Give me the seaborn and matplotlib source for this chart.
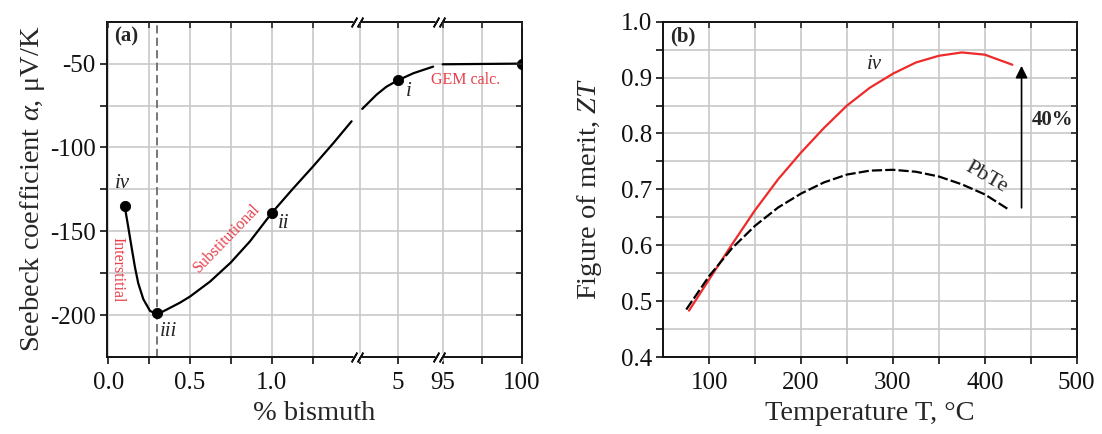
import numpy as np
import pandas as pd
import seaborn as sns
import matplotlib
matplotlib.use('Agg')
import matplotlib.pyplot as plt
from matplotlib.transforms import blended_transform_factory, offset_copy

# (a) Seebeck coefficient vs % bismuth (three pieces of a broken axis)
bi_seg1 = [0.1, 0.122, 0.143, 0.163, 0.183, 0.214, 0.255, 0.3, 0.357, 0.438, 0.5,
           0.622, 0.748, 0.866, 1.0, 1.125, 1.25, 1.375, 1.487]
seebeck_seg1 = [-135, -147.5, -160, -171.5, -181, -190.5, -197.5, -199.5, -196.7, -192.6,
                -188.9, -180, -168.7, -156, -139, -125, -111.5, -97.5, -84.4]
bi_seg2 = [4.53, 4.72, 4.85, 5.0, 5.21, 5.47]
seebeck_seg2 = [-77, -68.5, -63.8, -60, -55.7, -51.8]
bi_seg3 = [95.0, 100.0]
seebeck_seg3 = [-50.4, -50]

bi_points = [0.1, 0.3, 1.0, 5.0, 100.0]
seebeck_points = [-135, -199, -139, -60, -50]
point_names = ['iv', 'iii', 'ii', 'i']

bi_ticks = [0, 0.5, 1.0, 5, 95, 100]
bi_ticklabels = ['0.0', '0.5', '1.0', '5', '95', '100']
bi_minor = [0.25, 0.75, 1.25, 4.5, 97.5]
bi_gaps = [(1.5, 4.5), (5.5, 95)]

# (b) figure of merit vs temperature
temp_iv = [78, 100, 125, 150, 175, 200, 225, 250, 275, 300, 325, 350, 375, 400, 430]
zt_iv = [0.483, 0.539, 0.602, 0.663, 0.718, 0.766, 0.810, 0.850, 0.882, 0.907, 0.927,
         0.939, 0.945, 0.941, 0.923]
temp_pbte = [75, 100, 125, 150, 175, 200, 225, 250, 275, 300, 325, 350, 375, 400, 425]
zt_pbte = [0.485, 0.545, 0.595, 0.635, 0.6675, 0.6925, 0.7125, 0.7265, 0.7335, 0.735,
           0.7315, 0.723, 0.709, 0.691, 0.665]
arrow_temp = 440
arrow_zt = (0.667, 0.921)

# broken-axis scale: % bismuth -> pixel-like position
bi_knots = [-0.25, 0, 1.5, 4.5, 5.5, 95, 100, 102.5]
pos_knots = [67.4, 108.3, 353.7, 360.0, 435.4, 442.7, 521.7, 561.2]


def fwd(x):
    return np.interp(x, bi_knots, pos_knots)


def inv(p):
    return np.interp(p, pos_knots, bi_knots)


sns.set_theme(style='ticks')
plt.rcParams['font.family'] = ['Liberation Serif', 'DejaVu Serif']
plt.rcParams['mathtext.fontset'] = 'custom'
plt.rcParams['mathtext.rm'] = 'Liberation Serif'
plt.rcParams['mathtext.it'] = 'Liberation Serif:italic'
plt.rcParams['axes.unicode_minus'] = False

red = '#ee2a2a'
red_txt = '#e8404c'
grid_c = '#c8c8c8'
fs_tick = 18
fs_label = 20.5

fig = plt.figure(figsize=(11.02, 4.34), dpi=100)
ax1 = fig.add_axes([0.0968, 0.1774, 0.3766, 0.7726])
ax2 = fig.add_axes([0.6019, 0.1774, 0.3751, 0.7726])


def style_axes(ax):
    for s in ax.spines.values():
        s.set_linewidth(1.4)
        s.set_color('#111111')
    ax.grid(which='both', color=grid_c, lw=1.2)
    ax.set_axisbelow(True)
    ax.tick_params(which='both', direction='out', length=5, width=1.2,
                   labelsize=fs_tick, colors='#111111')
    ax.tick_params(axis='x', which='both', pad=6)
    ax.tick_params(axis='y', which='both', pad=3)


def mirror_ticks(ax, xscale=None):
    top = ax.twiny()
    if xscale is not None:
        top.set_xscale('function', functions=xscale)
    top.set_xlim(ax.get_xlim())
    top.set_xticks(ax.get_xticks())
    top.set_xticks(ax.get_xticks(minor=True), minor=True)
    top.tick_params(which='both', direction='in', length=4, width=1.2, labeltop=False)
    right = ax.twinx()
    right.set_ylim(ax.get_ylim())
    right.set_yticks(ax.get_yticks())
    right.set_yticks(ax.get_yticks(minor=True), minor=True)
    right.tick_params(which='both', direction='in', length=4, width=1.2, labelright=False)
    for t in (top, right):
        t.grid(False)
        for s in t.spines.values():
            s.set_visible(False)


# ---------- (a) ----------
ax1.set_xscale('function', functions=(fwd, inv))
seeb = pd.DataFrame({
    'bi': bi_seg1 + bi_seg2 + bi_seg3,
    'S': seebeck_seg1 + seebeck_seg2 + seebeck_seg3,
    'seg': [1] * len(bi_seg1) + [2] * len(bi_seg2) + [3] * len(bi_seg3),
})
ax1.axvline(bi_points[1], color='#777777', lw=1.4, ls=(0, (4.2, 2.2)), zorder=1.5)
sns.lineplot(data=seeb, x='bi', y='S', units='seg', estimator=None, sort=False,
             color='black', lw=1.6, ax=ax1, zorder=3)
sns.scatterplot(x=bi_points, y=seebeck_points, color='black', s=55, edgecolor='black',
                ax=ax1, zorder=4)

ax1.set_xlim(-0.01, 100)
ax1.set_ylim(-225, -25)
ax1.set_xticks(bi_ticks, bi_ticklabels)
ax1.set_xticks(bi_minor, minor=True)
ax1.set_yticks([-200, -150, -100, -50])
ax1.set_yticks([-175, -125, -75], minor=True)
style_axes(ax1)
ax1.set_xlabel('% bismuth', fontsize=fs_label, labelpad=5)
ax1.set_ylabel(r'Seebeck coefficient $\alpha$, μV/K', fontsize=fs_label, labelpad=2)

name_xy = [(0.084, -121.5), (0.367, -209.5), (1.07, -145.5), (5.14, -66.5)]
for nm, (nx, ny) in zip(point_names, name_xy):
    ax1.text(nx, ny, nm, fontsize=15, fontstyle='italic', ha='center', va='center')
ax1.text(0.059, -173, 'Interstitial', rotation=-90, color=red_txt, fontsize=11.5,
         ha='center', va='center')
ax1.text(0.724, -154, 'Substitutional', rotation=46, color=red_txt, fontsize=11.5,
         ha='center', va='center')
ax1.text(96.44, -60, 'GEM calc.', color=red_txt, fontsize=11.5, ha='center', va='center')
ax1.text(0.048, 0.955, '(a)', transform=ax1.transAxes, fontsize=15, fontweight='bold',
         ha='center', va='center')

mirror_ticks(ax1, xscale=(fwd, inv))

# axis break marks
trans = blended_transform_factory(ax1.transData, ax1.transAxes)
for lo, hi in bi_gaps:
    xb = inv((fwd(lo) + fwd(hi)) / 2)
    for yb in (0, 1):
        ax1.plot([xb], [yb], transform=trans, marker='s', ms=6, mfc='white', mec='none',
                 clip_on=False, zorder=6)
        for dx in (-2.0, 2.0):
            t = offset_copy(trans, fig=fig, x=dx, y=0, units='points')
            ax1.plot([xb], [yb], transform=t, marker=(2, 2, -30), ms=8, mec='#111111',
                     mew=1.2, clip_on=False, zorder=7)

# ---------- (b) ----------
sns.lineplot(x=temp_iv, y=zt_iv, color=red, lw=1.6, ax=ax2, zorder=3)
sns.lineplot(x=temp_pbte, y=zt_pbte, color='black', lw=1.6, ls=(0, (4.6, 1.4)), ax=ax2,
             zorder=3)
ax2.set_xlim(50, 500)
ax2.set_ylim(0.4, 1.0)
ax2.set_xticks([100, 200, 300, 400, 500])
ax2.set_xticks([150, 250, 350, 450], minor=True)
ax2.set_yticks([0.4, 0.5, 0.6, 0.7, 0.8, 0.9, 1.0])
ax2.set_yticks([0.45, 0.55, 0.65, 0.75, 0.85, 0.95], minor=True)
style_axes(ax2)
ax2.set_xlabel('Temperature T, °C', fontsize=fs_label, labelpad=5)
ax2.set_ylabel(r'Figure of merit, $ZT$', fontsize=fs_label, labelpad=12)

ax2.annotate('', xy=(arrow_temp, arrow_zt[1]), xytext=(arrow_temp, arrow_zt[0]),
             arrowprops=dict(arrowstyle='-|>', lw=1.2, color='black', mutation_scale=18,
                             shrinkA=0, shrinkB=0))
ax2.text(451.5, 0.824, '40%', fontsize=15, fontweight='bold', ha='left', va='center')
ax2.text(280, 0.923, 'iv', fontsize=15, fontstyle='italic', ha='center', va='center')
ax2.text(401.5, 0.722, 'PbTe', fontsize=16, rotation=-30, ha='center', va='center')
ax2.text(0.048, 0.955, '(b)', transform=ax2.transAxes, fontsize=15, fontweight='bold',
         ha='center', va='center')

mirror_ticks(ax2)

fig.savefig('out.png', dpi=100)
